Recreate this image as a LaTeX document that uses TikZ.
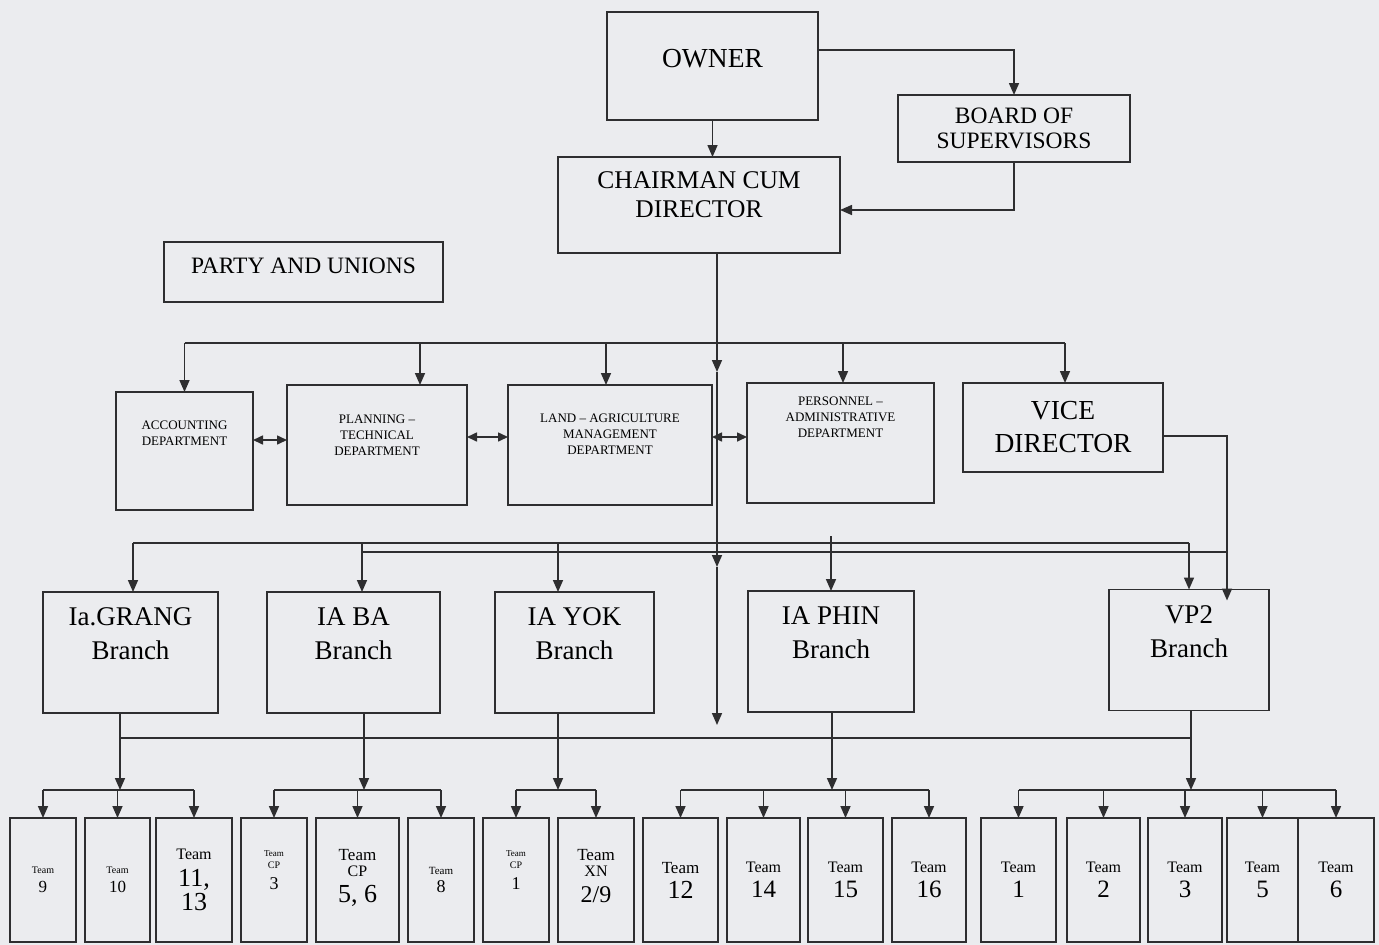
\documentclass[tikz,border=0pt]{standalone}
\usepackage{fontspec}
\setmainfont{Liberation Serif}
\usepackage{tikz}
\usetikzlibrary{arrows.meta, positioning, calc}
\definecolor{ink}{HTML}{2E2E30}
\definecolor{paper}{HTML}{EBECEF}
\newcommand{\tsz}[1]{\fontsize{#1}{#1}\selectfont}

\begin{document}
\begin{tikzpicture}[x=1pt, y=-1pt,
        orgbox/.style={draw=ink, line width=1.6pt, fill=paper, inner sep=0pt, outer sep=0pt, align=center},
        rel/.style={ink, line width=1.6pt, -{Triangle[length=12pt,width=10pt]}},
        wire/.style={ink, line width=1.6pt},
        dbl/.style={ink, line width=1.6pt, {Triangle[length=10pt,width=9pt]}-{Triangle[length=10pt,width=9pt]}},
        dept/.style={orgbox, minimum height=120pt, font=\fontsize{13}{16}\selectfont},
        branch/.style={orgbox, minimum height=121pt, text depth=37pt, font=\fontsize{27}{34}\selectfont},
        team/.style={orgbox, minimum height=124pt, font=\fontsize{16}{24}\selectfont},
        node distance=9pt
    ]
    \fill[paper] (0,0) rectangle (1379,945);
    \useasboundingbox (0,0) rectangle (1379,945);

    % top of the chart
    \node[orgbox, minimum width=211pt, minimum height=108pt, text depth=16pt, font=\fontsize{27.5}{30}\selectfont] (owner) at (712.5,66) {OWNER};
    \node[orgbox, minimum width=232pt, minimum height=67pt, font=\fontsize{23.5}{25}\selectfont] (board) at (1014,128.5) {BOARD OF\\SUPERVISORS};
    \node[orgbox, minimum width=282pt, minimum height=96pt, text depth=20pt, font=\fontsize{25.5}{29}\selectfont] (chair) at (699,205) {CHAIRMAN CUM\\DIRECTOR};
    \node[orgbox, minimum width=279pt, minimum height=60pt, text depth=12pt, font=\fontsize{23.5}{25}\selectfont] (party) at (303.5,272) {PARTY AND UNIONS};

    % departments
    \node[dept, minimum width=137pt, minimum height=118pt, text depth=36pt] (acc) at (184.5,451) {ACCOUNTING\\DEPARTMENT};
    \node[dept, minimum width=180pt, text depth=20pt] (plan) at (377,445) {PLANNING –\\TECHNICAL\\DEPARTMENT};
    \node[dept, minimum width=204pt, text depth=22pt] (land) at (610,445) {LAND – AGRICULTURE\\MANAGEMENT\\DEPARTMENT};
    \node[dept, minimum width=187pt, text depth=52pt] (pers) at (840.5,443) {PERSONNEL –\\ADMINISTRATIVE\\DEPARTMENT};
    \node[orgbox, minimum width=200pt, minimum height=89pt, font=\fontsize{27.5}{33}\selectfont] (vice) at (1063,427.5) {VICE\\DIRECTOR};

    % branches
    \node[branch, minimum width=175pt] (grang) at (130.5,652.5) {Ia.GRANG\\Branch};
    \node[branch, minimum width=173pt] (ba) at (353.5,652.5) {IA BA\\Branch};
    \node[branch, minimum width=159pt] (yok) at (574.5,652.5) {IA YOK\\Branch};
    \node[branch, minimum width=166pt] (phin) at (831,651.5) {IA PHIN\\Branch};
    \node[branch, minimum width=160pt] (vp2) at (1189,650) {VP2\\Branch};

    % teams
    \node[team, minimum width=66pt] (t9) at (43,880) {{\tsz{10}Team}\\[-5.5pt]{\tsz{17}9}};
    \node[team, minimum width=65pt, right=of t9] (t10) {{\tsz{10}Team}\\[-5.5pt]{\tsz{17}10}};
    \node[team, minimum width=76pt, right=6pt of t10] (t1113) {{\tsz{16}Team}\\[3pt]{\tsz{26}11,}\\{\tsz{26}13}};
    \node[team, minimum width=66pt, right=of t1113, text depth=20pt] (tcp3) {{\tsz{9}Team}\\[-12pt]{\tsz{10}CP}\\[-3.5pt]{\tsz{18}3}};
    \node[team, minimum width=83pt, right=of tcp3, text depth=8pt] (tcp56) {{\tsz{17}Team}\\[-8pt]{\tsz{16}CP}\\[2pt]{\tsz{26}5, 6}};
    \node[team, minimum width=66pt, right=of tcp56] (t8) {{\tsz{11}Team}\\[-5.5pt]{\tsz{18}8}};
    \node[team, minimum width=66pt, right=of t8, text depth=20pt] (tcp1) {{\tsz{9}Team}\\[-12pt]{\tsz{10}CP}\\[-3.5pt]{\tsz{18}1}};
    \node[team, minimum width=76pt, right=of tcp1, text depth=8pt] (txn) {{\tsz{17}Team}\\[-8pt]{\tsz{16}XN}\\[2pt]{\tsz{24}2/9}};
    \node[team, minimum width=75pt, right=of txn] (t12) {{\tsz{17}Team}\\[1pt]{\tsz{26}12}};
    \node[team, minimum width=73pt, right=of t12] (t14) {Team\\[1pt]{\tsz{25}14}};
    \node[team, minimum width=75pt, right=8pt of t14] (t15) {Team\\[1pt]{\tsz{25}15}};
    \node[team, minimum width=74pt, right=of t15] (t16) {Team\\[1pt]{\tsz{25}16}};
    \node[team, minimum width=75pt, right=15pt of t16] (t1) {Team\\[1pt]{\tsz{25}1}};
    \node[team, minimum width=73pt, right=11pt of t1] (t2) {Team\\[1pt]{\tsz{25}2}};
    \node[team, minimum width=74pt, right=8pt of t2] (t3) {Team\\[1pt]{\tsz{25}3}};
    \node[team, minimum width=71pt, right=5pt of t3] (t5) {Team\\[1pt]{\tsz{25}5}};
    \node[team, minimum width=76pt, right=0pt of t5] (t6) {Team\\[1pt]{\tsz{25}6}};

    % bus levels
    \coordinate (dbus) at (0,343);
    \coordinate (ubus) at (0,543);
    \coordinate (lbus) at (0,552);
    \coordinate (bbus) at (0,738);
    \coordinate (tbus) at (0,790);
    \coordinate (sp0) at ([xshift=18pt]chair.south);
    \coordinate (sp1) at (717,372);
    \coordinate (sp2) at (717,567);
    \coordinate (sp3) at (717,725);
    \coordinate (vdrop) at ($(vp2.north)+(38,11)$);

    % top links
    \draw[rel] (owner.south) -- (owner.south |- chair.north);
    \draw[rel] ([yshift=16pt]owner.east) -| (board.north);
    \draw[rel] (board.south) |- ([yshift=-5pt]chair.east);
    \draw[rel] (sp0) -- (sp1); \draw[rel] (sp1) -- (sp2); \draw[rel] (sp2) -- (sp3);

    % departments
    \draw[wire] (acc.north |- dbus) -- ([xshift=2pt]vice.north |- dbus);
    \foreach \d/\s in {acc/0, plan/43, land/-4, pers/2.5, vice/2}
        \draw[rel] ([xshift=\s pt]\d.north |- dbus) -- ([xshift=\s pt]\d.north);
    \draw[dbl] ([yshift=11pt]acc.east) -- ([yshift=11pt]acc.east -| plan.west);
    \draw[dbl] ([yshift=8pt]plan.east) -- ([yshift=8pt]plan.east -| land.west);
    \draw[dbl] ([yshift=8pt]land.east) -- ([yshift=8pt]land.east -| pers.west);

    % branches
    \draw[wire] ([xshift=2.5pt]grang.north |- ubus) -- (vp2.north |- ubus);
    \draw[wire] ([xshift=8.5pt]ba.north |- lbus) -- (vdrop |- lbus);
    \draw[rel] ([yshift=-8.5pt]vice.east) -| (vdrop);
    \foreach \b/\s in {grang/2.5, ba/8.5, yok/-16.5, vp2/0}
        \draw[rel] ([xshift=\s pt]\b.north |- ubus) -- ([xshift=\s pt]\b.north);
    \draw[rel] ($(phin.north |- ubus)+(0,-7)$) -- (phin.north);

    % teams
    \draw[wire] ([xshift=-10.5pt]grang.south |- bbus) -- ([xshift=2pt]vp2.south |- bbus);
    \foreach \b/\s in {grang/-10.5, ba/10.5, yok/-16.5, phin/1, vp2/2}
        \draw[rel] ([xshift=\s pt]\b.south) -- ([xshift=\s pt]\b.south |- tbus);
    \foreach \a/\z in {t9/t1113, tcp3/t8, tcp1/txn, t12/t16, t1/t6}
        \draw[wire] (\a.north |- tbus) -- (\z.north |- tbus);
    \foreach \t in {t9,t10,t1113,tcp3,tcp56,t8,tcp1,txn,t12,t14,t15,t16,t1,t2,t3,t5,t6}
        \draw[rel] (\t.north |- tbus) -- (\t.north);
\end{tikzpicture}
\end{document}
